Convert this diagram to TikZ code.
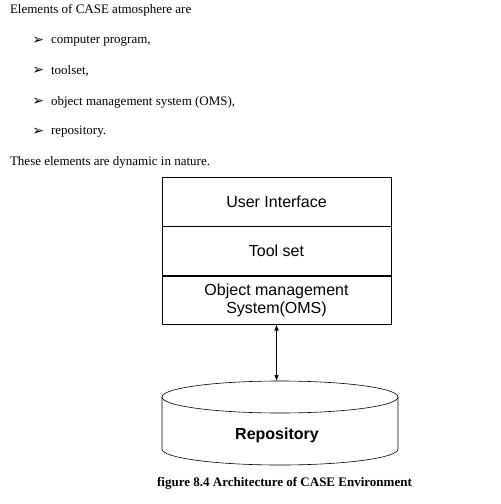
\documentclass[tikz,border=0pt]{standalone}
\usepackage{fontspec}
\setmainfont{Liberation Serif}
\newfontfamily\arialfont{Liberation Sans}
\newfontfamily\dejavufont{DejaVu Sans}
\usetikzlibrary{positioning,arrows.meta}

\begin{document}
\begin{tikzpicture}[x=1pt,y=1pt,yscale=-1,xscale=1,line width=0.6pt,
  layer/.style={draw,minimum width=229pt,inner sep=0pt,align=center,font=\arialfont\fontsize{16}{18}\selectfont},
  item/.style={anchor=west,inner sep=0.75pt,font=\fontsize{13}{15}\selectfont},
  mark arrow/.style={anchor=west,inner sep=0pt,font=\dejavufont\fontsize{14}{16}\selectfont}]
\useasboundingbox (0,0) rectangle (501,504);
%Text
\node (intro) [item] at (9,10) {Elements of CASE atmosphere are};
\node (m1) [mark arrow] at (32,41) {➢};
\node (t1) [item] at (50,41) {computer program,};
\node (m2) [mark arrow] at (32,71) {➢};
\node (t2) [item] at (50,71) {toolset,};
\node (m3) [mark arrow] at (32,102) {➢};
\node (t3) [item] at (50,102) {object management system (OMS),};
\node (m4) [mark arrow] at (32,132) {➢};
\node (t4) [item] at (50,132) {repository.};
\node (outro) [item] at (9,162) {These elements are dynamic in nature.};
%Layers
\node (ui) [layer,minimum height=49pt] at (276.5,201.5) {User Interface};
\node (tools) [layer,minimum height=49pt,below=0pt of ui] {Tool set};
\node (oms) [layer,minimum height=48pt,below=0pt of tools] {Object management\\System(OMS)};
%Repository
\draw (280,397) ellipse (118 and 16);
\draw (162,397) -- (162,449) arc(180:0:118 and 16) -- (398,397);
\node (repo) [font=\arialfont\bfseries\fontsize{16}{18}\selectfont] at (277,435) {Repository};
\coordinate (repotop) at (276.5,381);
\draw [{Latex[length=6pt,width=4.5pt]}-{Latex[length=6pt,width=4.5pt]}] (oms.south) -- (repotop);
%Caption
\node (caption) [font=\bfseries\fontsize{13}{15}\selectfont] at (284.5,483) {figure 8.4 Architecture of CASE Environment};
\end{tikzpicture}
\end{document}
